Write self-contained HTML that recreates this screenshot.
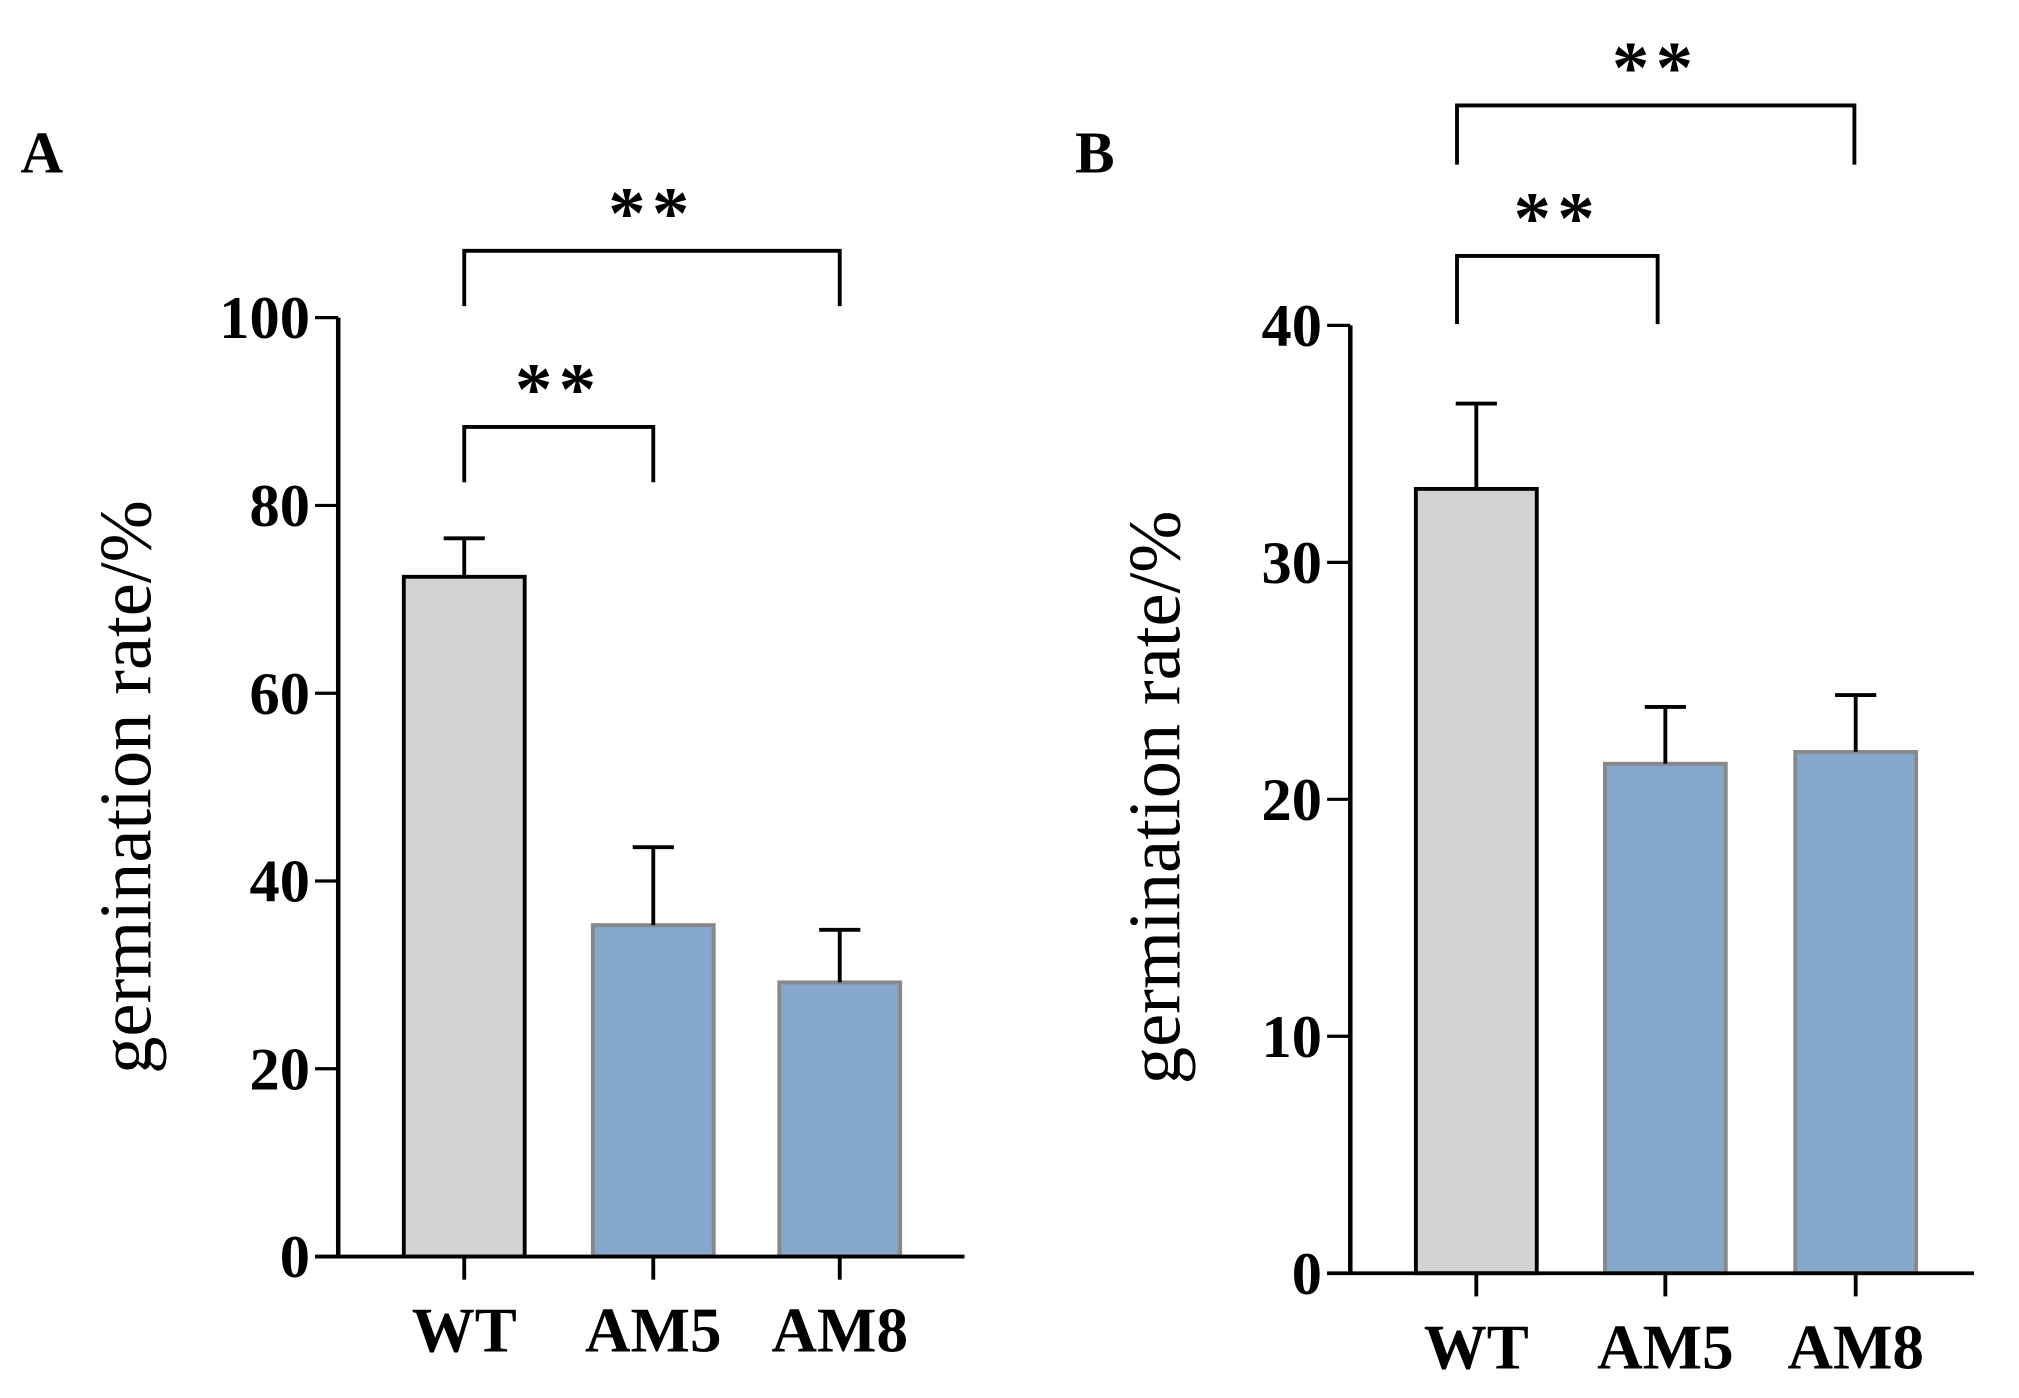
<!DOCTYPE html>
<html><head><meta charset="utf-8"><style>
html,body{margin:0;padding:0;background:#fff;}
svg{display:block;}
text{font-family:"Liberation Serif",serif;fill:#000;}
</style></head><body>
<svg id="chart" width="2019" height="1398" viewBox="0 0 1570 1087" preserveAspectRatio="none" xmlns="http://www.w3.org/2000/svg"></svg>
<script>
const categories = ["WT", "AM5", "AM8"];
const valuesA = [72.4, 35.3, 29.2];
const errorsA = [4.1, 8.3, 5.6];
const ticksA = [0, 20, 40, 60, 80, 100];
const valuesB = [33.1, 21.5, 22.0];
const errorsB = [3.6, 2.4, 2.4];
const ticksB = [0, 10, 20, 30, 40];

const NS = "http://www.w3.org/2000/svg";
const svg = document.getElementById("chart");
function mk(tag, attrs, parent) {
  const e = document.createElementNS(NS, tag);
  for (const k in attrs) e.setAttribute(k, attrs[k]);
  (parent || svg).appendChild(e);
  return e;
}

function panel(cfg) {
  const g = mk("g", {});
  
  
  const y = v => cfg.y0 - (v / cfg.max) * (cfg.y0 - cfg.yTop);
  const x = i => cfg.xs[i];
  cfg.values.forEach((v, i) => {
    const r = mk("rect", {x: x(i) - 47, y: y(v), width: 94, height: cfg.y0 - y(v),
      fill: i === 0 ? "#d3d3d3" : "#85a7cb", stroke: i === 0 ? "#000" : "#888", "stroke-width": 3}, g);
    
    
    const e = mk("path", {d: `M${x(i)},${y(v)}V${y(v + cfg.errs[i])}M${x(i) - 16},${y(v + cfg.errs[i])}H${x(i) + 16}`,
      stroke: "#000", "stroke-width": 3, fill: "none"}, g);
    
    
  });
  const ya = mk("path", {d: `M${cfg.ax},${y(cfg.max)}V${cfg.y0}`, stroke: "#000", "stroke-width": 3.5, fill: "none"}, g);
  
  
  cfg.ticks.forEach(t => {
    mk("path", {d: `M${cfg.ax - 18},${y(t)}H${cfg.ax}`, stroke: "#000", "stroke-width": 2.5}, g);
    const tl = mk("text", {x: cfg.ax - 22, y: y(t) + 16, "text-anchor": "end", "font-size": 47, "font-weight": "bold"}, g);
    tl.textContent = t;
    
    
  });
  const xa = mk("path", {d: `M${cfg.ax - 18},${cfg.y0}H${cfg.xEnd}`, stroke: "#000", "stroke-width": 3}, g);
  
  
  categories.forEach((c, i) => {
    mk("path", {d: `M${x(i)},${cfg.y0}V${cfg.y0 + 18}`, stroke: "#000", "stroke-width": 3}, g);
    const t = mk("text", {x: x(i), y: cfg.y0 + 74, "text-anchor": "middle", "font-size": 49, "font-weight": "bold"}, g);
    t.textContent = c;
    
    
  });
  const yt = mk("text", {x: 0, y: 0, transform: `translate(${cfg.ytX},${cfg.ytY}) rotate(-90)`, "text-anchor": "middle", "font-size": 58}, g);
  yt.textContent = "germination rate/%";
  
  
  const pl = mk("text", {x: cfg.letterX, y: 134, "font-size": 46, "font-weight": "bold"}, g);
  pl.textContent = cfg.letter;
  
  
  cfg.brackets.forEach(b => {
    const p = mk("path", {d: `M${b.x1},${b.yb}V${b.yt}H${b.x2}V${b.yb}`, stroke: "#000", "stroke-width": 3, fill: "none"}, g);
    
    
    const s = mk("text", {x: (b.x1 + b.x2) / 2, y: b.yt - 10, "text-anchor": "middle", "font-size": 58, "font-weight": "bold", "letter-spacing": 5}, g);
    s.textContent = "**";
    
    
  });
}

panel({name: "panel-a", letter: "A", letterX: 16, values: valuesA, errs: errorsA, ticks: ticksA, max: 100,
  y0: 977, yTop: 247, ax: 263, xEnd: 750, xs: [361, 508, 653], ytX: 117, ytY: 612,
  brackets: [{x1: 361, x2: 508, yt: 332, yb: 375}, {x1: 361, x2: 653, yt: 195, yb: 238}]});
panel({name: "panel-b", letter: "B", letterX: 836, values: valuesB, errs: errorsB, ticks: ticksB, max: 40,
  y0: 990, yTop: 253, ax: 1050, xEnd: 1535, xs: [1148, 1295, 1443], ytX: 917, ytY: 620,
  brackets: [{x1: 1133, x2: 1289, yt: 199, yb: 252}, {x1: 1133, x2: 1442, yt: 82, yb: 128}]});
</script>
</body></html>
